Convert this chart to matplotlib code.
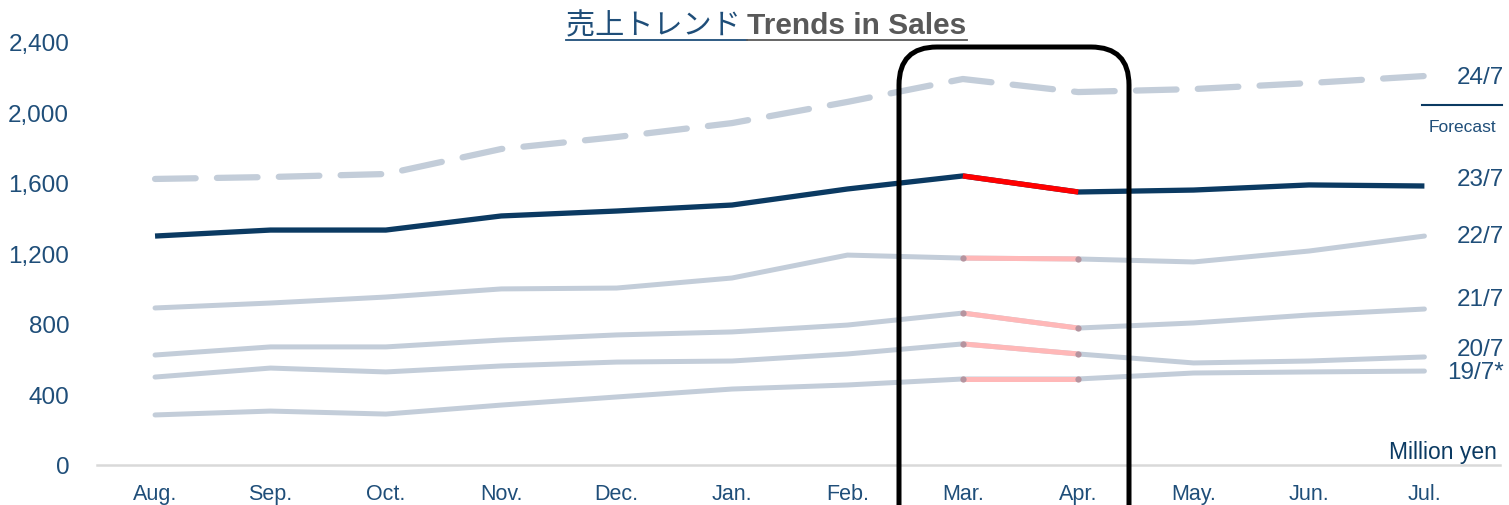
import matplotlib
matplotlib.use("Agg")
import matplotlib.pyplot as plt
import matplotlib.patches as mpatches
from matplotlib.transforms import IdentityTransform
from matplotlib.lines import Line2D

plt.rcParams['font.family'] = ['Liberation Sans', 'DejaVu Sans']

months = ["Aug.", "Sep.", "Oct.", "Nov.", "Dec.", "Jan.", "Feb.",
          "Mar.", "Apr.", "May.", "Jun.", "Jul."]
fy24_forecast = [1623, 1634, 1651, 1793, 1861, 1940, 2060, 2190, 2116, 2133, 2167, 2207]
fy23 = [1299, 1333, 1333, 1413, 1441, 1475, 1566, 1640, 1549, 1560, 1589, 1583]
fy22 = [891, 919, 953, 999, 1004, 1061, 1191, 1174, 1169, 1152, 1214, 1299]
fy21 = [624, 670, 670, 709, 738, 755, 794, 862, 777, 806, 851, 885]
fy20 = [499, 550, 528, 562, 584, 590, 630, 687, 630, 579, 590, 613]
fy19 = [284, 306, 289, 340, 386, 431, 454, 488, 488, 522, 528, 533]
series_labels = ["24/7", "23/7", "22/7", "21/7", "20/7", "19/7*"]
yticks = [0, 400, 800, 1200, 1600, 2000, 2400]

NAVY = "#0B3A62"
TEXT = "#1F4E79"
GREY = "#C3CDD9"
PINK = "#FFB8B8"
RED = "#FF0000"

fig = plt.figure(figsize=(15.09, 5.06), dpi=100)
ax = fig.add_axes([97 / 1509, 40 / 506, 1403 / 1509, 423 / 506])
x = list(range(len(months)))
hl = [7, 8]  # Mar -> Apr highlighted segment

for s in [fy22, fy21, fy20, fy19]:
    ax.plot(x, s, color=GREY, lw=3.6, solid_capstyle='round', zorder=2)
    ax.plot(hl, [s[i] for i in hl], color=PINK, lw=3.6, solid_capstyle='butt', zorder=3)
    ax.plot(hl, [s[i] for i in hl], 'o', color="#B5949F", ms=4.5, mew=0, zorder=4)

ax.plot(x, fy24_forecast, color=GREY, lw=4.5, ls=(0, (6.5, 3.4)), dash_capstyle='round', zorder=2)
ax.plot(x, fy23, color=NAVY, lw=3.8, solid_capstyle='butt', zorder=5)
ax.plot(hl, [fy23[i] for i in hl], color=RED, lw=3.8, solid_capstyle='butt', zorder=6)

ax.set_xlim(-0.503, 11.655)
ax.set_ylim(0, 2400)
ax.set_yticks(yticks)
ax.set_yticklabels([f"{v:,}" for v in yticks], fontsize=17.5, color=TEXT)
ax.set_xticks(x)
ax.set_xticklabels(months, fontsize=15.5, color=TEXT)
ax.tick_params(length=0, pad=13)
ax.tick_params(axis='y', pad=20)
for sp in ['top', 'right', 'left']:
    ax.spines[sp].set_visible(False)
ax.spines['bottom'].set_color("#D9D9D9")
ax.spines['bottom'].set_linewidth(1.8)

# right side labels (pixel positions from the top)
lab_y = [78, 180, 237, 300, 350, 373]
for lab, py in zip(series_labels, lab_y):
    fig.text(1504 / 1509, 1 - py / 506, lab, ha='right', va='center',
             fontsize=17.5, color=TEXT)
fig.add_artist(Line2D([1422 / 1509, 1502 / 1509], [1 - 106 / 506] * 2, color=NAVY, lw=1.5))
fig.text(1462 / 1509, 1 - 128 / 506, "Forecast", ha='center', va='center', fontsize=12.5, color=TEXT)
fig.text(1497 / 1509, 1 - 453 / 506, "Million yen", ha='right', va='center', fontsize=16.5,
         color=NAVY)

# highlight box around Mar-Apr
box = mpatches.FancyBboxPatch((899, -40), 230, 498, boxstyle="round,pad=0,rounding_size=38",
                              transform=IdentityTransform(), fc='none', ec='black', lw=3.6,
                              clip_on=False, zorder=10)
fig.patches.append(box)

# title with underline
t1 = fig.text(566 / 1509, 1 - 26 / 506, "売上トレンド ", ha='left', va='center', fontsize=21,
              color=TEXT, family=['Noto Sans CJK JP', 'DejaVu Sans'])
fig.canvas.draw()
r = fig.canvas.get_renderer()
b1 = t1.get_window_extent(r)
t2 = fig.text(b1.x1 / 1509, 1 - 26 / 506, "Trends in Sales", ha='left', va='center', fontsize=21.5,
              color="#595959", fontweight='bold')
fig.canvas.draw()
b2 = t2.get_window_extent(r)
uy = 506 - 41
fig.add_artist(Line2D([b1.x0, b1.x1], [uy, uy], transform=IdentityTransform(), color=TEXT, lw=1.3))
fig.add_artist(Line2D([b1.x1, b2.x1], [uy, uy], transform=IdentityTransform(), color="#595959", lw=1.3))

fig.savefig("out.png", dpi=100)
